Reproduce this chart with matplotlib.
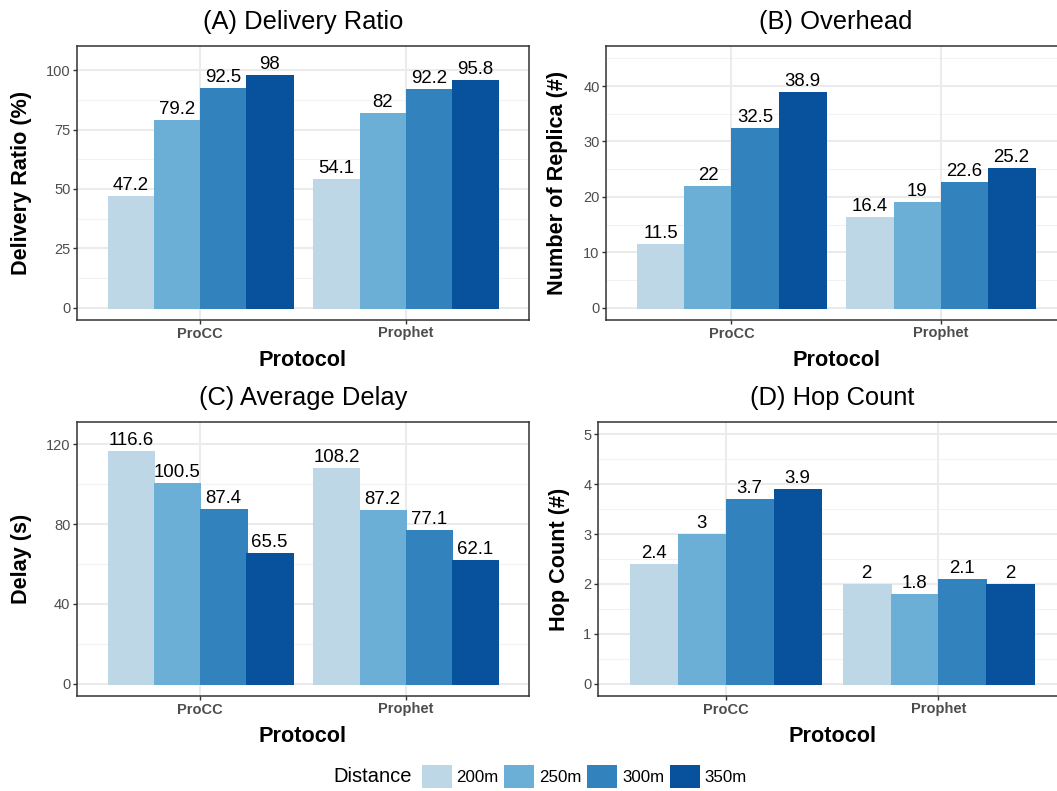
import matplotlib
matplotlib.use("Agg")
import matplotlib.pyplot as plt
from matplotlib.patches import Patch
import numpy as np

plt.rcParams["font.family"] = ["Liberation Sans", "DejaVu Sans"]

protocols = ["ProCC", "Prophet"]
distances = ["200m", "250m", "300m", "350m"]
colors = ["#BDD7E7", "#6BAED6", "#3182BD", "#08519C"]

delivery_ratio = [[47.2, 54.1], [79.2, 82.0], [92.5, 92.2], [98.0, 95.8]]
overhead = [[11.5, 16.4], [22.0, 19.0], [32.5, 22.6], [38.9, 25.2]]
avg_delay = [[116.6, 108.2], [100.5, 87.2], [87.4, 77.1], [65.5, 62.1]]
hop_count = [[2.4, 2.0], [3.0, 1.8], [3.7, 2.1], [3.9, 2.0]]

W, H = 1057, 791
DPI = 100
PX = 72.0 / DPI  # points per pixel

fig = plt.figure(figsize=(W / DPI, H / DPI), dpi=DPI)
fig.patch.set_facecolor("white")


def px_axes(l, r, t, b):
    return fig.add_axes([l / W, 1 - b / H, (r - l) / W, (b - t) / H])


panels = [
    dict(box=(77, 529, 46, 320), data=delivery_ratio, title="(A) Delivery Ratio",
         ylabel="Delivery Ratio (%)", lim=105, major=[0, 25, 50, 75, 100], ylab_dx=55),
    dict(box=(606, 1066, 46, 320), data=overhead, title="(B) Overhead",
         ylabel="Number of Replica (#)", lim=45, major=[0, 10, 20, 30, 40], ylab_dx=48),
    dict(box=(77, 529, 422, 696), data=avg_delay, title="(C) Average Delay",
         ylabel="Delay (s)", lim=125, major=[0, 40, 80, 120], ylab_dx=55),
    dict(box=(598, 1066, 422, 696), data=hop_count, title="(D) Hop Count",
         ylabel="Hop Count (#)", lim=5, major=[0, 1, 2, 3, 4, 5], ylab_dx=39),
]

x = np.arange(1, len(protocols) + 1)
bar_w = 0.9 / len(distances)

for p in panels:
    ax = px_axes(*p["box"])
    ax.set_facecolor("white")
    lim = p["lim"]
    ax.set_ylim(-0.05 * lim, 1.05 * lim)
    ax.set_xlim(0.4, 2.6)

    major = p["major"]
    step = major[1] - major[0]
    minor = [m + step / 2 for m in major if m + step / 2 < 1.05 * lim]
    for v in major:
        ax.axhline(v, color="#EBEBEB", lw=1.5, zorder=0)
    for v in minor:
        ax.axhline(v, color="#F2F2F2", lw=0.8, zorder=0)
    for xv in x:
        ax.axvline(xv, color="#EBEBEB", lw=1.5, zorder=0)

    for i, (vals, c) in enumerate(zip(p["data"], colors)):
        pos = x - 0.45 + bar_w * (i + 0.5)
        ax.bar(pos, vals, width=bar_w, color=c, edgecolor=c, linewidth=0.72,
               antialiased=False, zorder=2)
        for xp, v in zip(pos, vals):
            ax.annotate(f"{v:g}", (xp, v), xytext=(0, 6 * PX), textcoords="offset points",
                        ha="center", va="baseline", fontsize=13.4, color="black", zorder=3)

    ax.set_yticks(major)
    ax.set_yticklabels([f"{m:g}" for m in major])
    ax.set_xticks(x)
    ax.set_xticklabels(protocols, fontweight="bold")
    ax.tick_params(axis="both", length=4 * PX, width=1.0, color="#333333",
                   labelcolor="#4D4D4D", labelsize=10.5, pad=2.5 * PX)
    for s in ax.spines.values():
        s.set_color("#333333")
        s.set_linewidth(1.1)
        s.set_zorder(4)

    ax.set_title(p["title"], fontsize=18.4, pad=17 * PX, color="black")
    ax.annotate("Protocol", (0.5, 0), xycoords="axes fraction", xytext=(0, -46 * PX),
                textcoords="offset points", ha="center", va="baseline",
                fontsize=15.6, fontweight="bold")
    ax.annotate(p["ylabel"], (0, 0.5), xycoords="axes fraction",
                xytext=(-p["ylab_dx"] * PX, 0), textcoords="offset points",
                ha="center", va="center", rotation=90, fontsize=15.6, fontweight="bold")

# legend along the bottom
handles = [Patch(facecolor=c, edgecolor="none") for c in colors]
fs_leg = 12.2
em = fs_leg / PX
leg = fig.legend(handles, distances, ncol=4, loc="center left",
                 bbox_to_anchor=(421.5 / W, 1 - 776.5 / H), frameon=False,
                 fontsize=fs_leg, handlelength=30 / em, handleheight=28 / em,
                 handletextpad=5 / em, columnspacing=5.5 / em, borderpad=0,
                 borderaxespad=0)
fig.text(333 / W, 1 - 776.5 / H, "Distance", fontsize=14.5, ha="left", va="center")

fig.savefig("out.png", dpi=DPI)
